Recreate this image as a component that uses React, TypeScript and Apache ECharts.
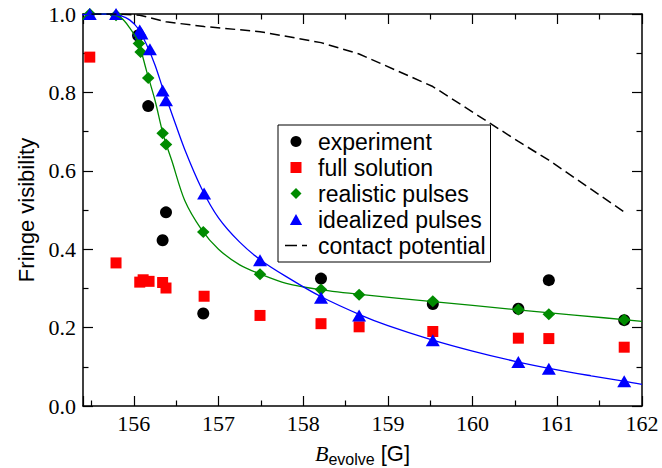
import React, { useEffect, useRef } from 'react';
import * as echarts from 'echarts';

// ---- data ----
const experimentX = [156.05, 156.17, 156.34, 156.38, 156.82, 158.21, 159.53, 160.54, 160.9, 161.79];
const experimentY = [0.945, 0.765, 0.423, 0.494, 0.236, 0.325, 0.26, 0.248, 0.321, 0.219];

const fullX = [155.48, 155.79, 156.07, 156.11, 156.18, 156.34, 156.38, 156.83, 157.49, 158.21, 158.66, 159.53, 160.54, 160.9, 161.79];
const fullY = [0.89, 0.365, 0.316, 0.322, 0.318, 0.315, 0.301, 0.28, 0.231, 0.21, 0.202, 0.19, 0.173, 0.172, 0.15];

const realisticX = [155.48, 155.79, 156.06, 156.08, 156.17, 156.34, 156.38, 156.82, 157.49, 158.21, 158.66, 159.53, 160.54, 160.9, 161.79];
const realisticY = [1.0, 0.997, 0.925, 0.903, 0.837, 0.696, 0.667, 0.444, 0.336, 0.297, 0.284, 0.267, 0.246, 0.234, 0.22];

const idealizedX = [155.48, 155.79, 156.07, 156.09, 156.19, 156.34, 156.38, 156.83, 157.49, 158.21, 158.66, 159.53, 160.54, 160.9, 161.79];
const idealizedY = [1.0, 1.0, 0.958, 0.95, 0.91, 0.805, 0.78, 0.542, 0.372, 0.276, 0.231, 0.168, 0.112, 0.095, 0.063];

const realisticCurveX = [155.39, 155.45, 155.55, 155.7, 155.85, 155.95, 156.05, 156.15, 156.25, 156.35, 156.45, 156.6, 156.8, 157.0, 157.25, 157.5, 157.8, 158.2, 158.7, 159.5, 160.5, 161.2, 162];
const realisticCurveY = [0.985, 0.998, 1.0, 1.0, 0.99, 0.965, 0.93, 0.855, 0.78, 0.69, 0.625, 0.525, 0.45, 0.4, 0.36, 0.336, 0.313, 0.297, 0.284, 0.267, 0.246, 0.232, 0.216];

const idealizedCurveX = [155.39, 155.5, 155.7, 155.85, 155.95, 156.05, 156.15, 156.25, 156.35, 156.45, 156.6, 156.8, 157.0, 157.25, 157.5, 157.8, 158.2, 158.7, 159.0, 159.5, 160.0, 160.5, 161.0, 161.4, 161.8, 162];
const idealizedCurveY = [0.998, 1.0, 1.0, 0.995, 0.985, 0.963, 0.922, 0.87, 0.805, 0.745, 0.655, 0.555, 0.48, 0.418, 0.372, 0.33, 0.28, 0.23, 0.205, 0.17, 0.14, 0.114, 0.092, 0.077, 0.063, 0.055];

const contactX = [155.5, 155.8, 156.07, 156.38, 156.83, 157.49, 158.21, 158.66, 159.53, 160.54, 160.9, 161.79];
const contactY = [1.0, 1.0, 0.997, 0.98, 0.968, 0.955, 0.927, 0.898, 0.815, 0.675, 0.627, 0.495];

const legendNames = ['experiment', 'full solution', 'realistic pulses', 'idealized pulses', 'contact potential'];
const xMin = 155.4;
const xMax = 162;
const yMin = 0;
const yMax = 1;
const yStep = 0.2;

const BLACK = '#000000';
const RED = '#ff0000';
const GREEN = '#008b00';
const BLUE = '#0000ff';

const W = 662;
const H = 468;

function pairs(xs: number[], ys: number[]) {
  return xs.map((x, i) => [x, ys[i]]);
}

const tickStyle = { color: BLACK, width: 1.2 };

function makeX(main: boolean) {
  return {
    type: 'value',
    min: xMin,
    max: xMax,
    minInterval: 1,
    maxInterval: 1,
    position: main ? 'bottom' : 'top',
    axisLine: { show: true, onZero: false, lineStyle: { color: BLACK, width: 1.5 } },
    axisTick: { show: true, inside: true, length: 10, lineStyle: tickStyle },
    minorTick: { show: true, splitNumber: 2, length: 5.5, lineStyle: tickStyle },
    splitLine: { show: false },
    minorSplitLine: { show: false },
    axisLabel: main
      ? {
          show: true,
          color: BLACK,
          fontFamily: 'Liberation Serif',
          fontSize: 22,
          margin: 6,
          formatter: (v: number) => (Math.abs(v - Math.round(v)) < 1e-6 ? String(Math.round(v)) : ''),
        }
      : { show: false },
    ...(main
      ? {
          name: '{b|B}{s|evolve}{g| [G]}',
          nameLocation: 'middle',
          nameGap: 34.5,
          nameTextStyle: {
            color: BLACK,
            rich: {
              b: { fontFamily: 'Liberation Serif', fontStyle: 'italic', fontSize: 22, lineHeight: 26, color: BLACK },
              s: { fontFamily: 'Liberation Sans', fontSize: 16, lineHeight: 16, padding: [11, 0, 0, 0], color: BLACK },
              g: { fontFamily: 'Liberation Sans', fontSize: 22, lineHeight: 26, color: BLACK },
            },
          },
        }
      : {}),
  };
}

function makeY(main: boolean) {
  return {
    type: 'value',
    min: yMin,
    max: yMax,
    interval: yStep,
    position: main ? 'left' : 'right',
    axisLine: { show: true, onZero: false, lineStyle: { color: BLACK, width: 1.5 } },
    axisTick: { show: true, inside: true, length: 10, lineStyle: tickStyle },
    minorTick: { show: true, splitNumber: 2, length: 5.5, lineStyle: tickStyle },
    splitLine: { show: false },
    minorSplitLine: { show: false },
    axisLabel: main
      ? {
          show: true,
          color: BLACK,
          fontFamily: 'Liberation Serif',
          fontSize: 22,
          margin: 7,
          formatter: (v: number) => v.toFixed(1),
        }
      : { show: false },
    ...(main
      ? {
          name: 'Fringe visibility',
          nameLocation: 'middle',
          nameGap: 45,
          nameTextStyle: { color: BLACK, fontFamily: 'Liberation Sans', fontSize: 22 },
        }
      : {}),
  };
}

export default function App() {
  const ref = useRef<HTMLDivElement>(null);

  useEffect(() => {
    if (!ref.current) return;
    document.body.style.margin = '0';
    const chart = echarts.init(ref.current, null, { renderer: 'svg', width: W, height: H });
    const option = {
      animation: false,
      backgroundColor: '#ffffff',
      grid: { left: 83, top: 14, right: 20, bottom: 62, containLabel: false, outerBoundsMode: 'none' },
      xAxis: [makeX(true), makeX(false)],
      yAxis: [makeY(true), makeY(false)],
      legend: {
        orient: 'vertical',
        left: 278,
        top: 125,
        padding: [3.5, 5, 3.5, 7],
        itemGap: 0,
        itemWidth: 22,
        itemHeight: 11,
        borderColor: BLACK,
        borderWidth: 1,
        borderRadius: 0,
        backgroundColor: '#ffffff',
        selectedMode: false,
        textStyle: { fontFamily: 'Liberation Sans', fontSize: 23, color: BLACK, lineHeight: 26, padding: [0, 0, 0, 6] },
        data: [
          { name: legendNames[0], icon: 'circle' },
          { name: legendNames[1], icon: 'path://M0,0L10,0L10,10L0,10Z' },
          { name: legendNames[2], icon: 'path://M5,0L10,5L5,10L0,5Z' },
          { name: legendNames[3], icon: 'path://M5,0L10,9L0,9Z' },
          { name: legendNames[4], icon: 'path://M0,0L12,0L12,1.6L0,1.6Z M17,0L22,0L22,1.6L17,1.6Z' },
        ],
      },
      series: [
        {
          name: legendNames[0],
          type: 'scatter',
          data: pairs(experimentX, experimentY),
          symbol: 'circle',
          symbolSize: 12,
          itemStyle: { color: BLACK, opacity: 1 },
          silent: true,
        },
        {
          name: legendNames[1],
          type: 'scatter',
          data: pairs(fullX, fullY),
          symbol: 'rect',
          symbolSize: 11,
          itemStyle: { color: RED, opacity: 1 },
          silent: true,
        },
        {
          name: 'realistic fit',
          type: 'line',
          data: pairs(realisticCurveX, realisticCurveY),
          symbol: 'none',
          showSymbol: false,
          smooth: 0.3,
          lineStyle: { color: GREEN, width: 1.3 },
          itemStyle: { color: GREEN },
          silent: true,
        },
        {
          name: 'idealized fit',
          type: 'line',
          data: pairs(idealizedCurveX, idealizedCurveY),
          symbol: 'none',
          showSymbol: false,
          smooth: 0.3,
          lineStyle: { color: BLUE, width: 1.3 },
          itemStyle: { color: BLUE },
          silent: true,
        },
        {
          name: legendNames[2],
          type: 'scatter',
          data: pairs(realisticX, realisticY),
          symbol: 'diamond',
          symbolSize: [12.5, 12],
          itemStyle: { color: GREEN, opacity: 1 },
          silent: true,
        },
        {
          name: legendNames[3],
          type: 'scatter',
          data: pairs(idealizedX, idealizedY),
          symbol: 'triangle',
          symbolSize: [14, 12],
          itemStyle: { color: BLUE, opacity: 1 },
          silent: true,
        },
        {
          name: legendNames[4],
          type: 'line',
          data: pairs(contactX, contactY),
          symbol: 'none',
          showSymbol: false,
          lineStyle: { color: BLACK, width: 1.5, type: [10, 5] },
          itemStyle: { color: BLACK },
          silent: true,
        },
      ],
    };
    chart.setOption(option as any);
    return () => chart.dispose();
  }, []);

  return <div ref={ref} style={{ width: W, height: H, background: '#fff' }} />;
}
